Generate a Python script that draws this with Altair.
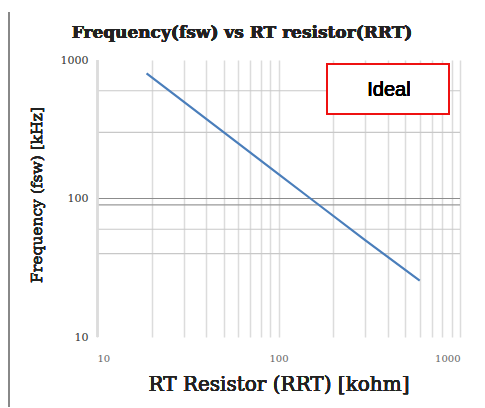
import altair as alt
import pandas as pd

# Data
rrt_kohm = [18.75, 30, 50, 100, 150, 300, 600]
fsw_khz = [800, 500, 300, 150, 100, 50, 25.5]

hgrid_values = [40, 60, 90, 100, 300, 600]
hgrid_colors = ["#c8c8c8", "#c8c8c8", "#9a9a9a", "#8c8c8c", "#c8c8c8", "#c8c8c8"]

x_grid_values = [10, 20, 30, 40, 50, 60, 70, 80, 90, 100,
                 200, 300, 400, 500, 600, 700, 800, 900, 1000]
axis_labels = [10, 100, 1000]

title_text = "Frequency(fsw) vs RT resistor(RRT)"
x_title = "RT Resistor (RRT) [kohm]"
y_title = "Frequency (fsw) [kHz]"
legend_text = "Ideal"

df = pd.DataFrame({"R": rrt_kohm, "f": fsw_khz})
hg = pd.DataFrame({"v": hgrid_values, "c": hgrid_colors})

serif = "DejaVu Serif"

xs = alt.Scale(type="log", domain=[10, 1000], nice=False)
ys = alt.Scale(type="log", domain=[10, 1000], nice=False)

base = alt.Chart(df).mark_line(color="#4a7ebb", strokeWidth=2.2).encode(
    x=alt.X("R:Q", scale=xs, axis=alt.Axis(
        values=x_grid_values, grid=True, gridColor="#dcdcdc", gridWidth=1.5,
        domain=False, ticks=False, title=None,
        labelExpr="(datum.value == 10 || datum.value == 100 || datum.value == 1000) ? datum.label : ''",
        labelFont=serif, labelFontSize=10, labelColor="#666666", labelPadding=16,
        format="d")),
    y=alt.Y("f:Q", scale=ys, axis=alt.Axis(
        values=axis_labels, grid=False, domain=False, ticks=False, title=None,
        labelFont=serif, labelFontSize=11, labelColor="#333333", labelPadding=9,
        format="d")),
)

hlines = alt.Chart(hg).mark_rule(strokeWidth=1.2).encode(
    y=alt.Y("v:Q", scale=ys),
    color=alt.Color("c:N", scale=None),
)

line_left = alt.Chart(df).mark_rule(color="#dcdcdc", strokeWidth=1.5).encode(
    x=alt.value(0.5), y=alt.value(0), y2=alt.value(277))

frame = alt.Chart(df).mark_rule(color="#888888", strokeWidth=1.5).encode(
    x=alt.value(-88), y=alt.value(-48), y2=alt.value(360))

title = alt.Chart(df).mark_text(font=serif, fontSize=17, fontWeight="bold",
                                color="#222222").encode(
    x=alt.value(145), y=alt.value(-27), text=alt.value(title_text))

xt = alt.Chart(df).mark_text(font=serif, fontSize=20, color="#222222").encode(
    x=alt.value(182), y=alt.value(325), text=alt.value(x_title))

yt = alt.Chart(df).mark_text(font=serif, fontSize=15.5, angle=270,
                             color="#222222").encode(
    x=alt.value(-60), y=alt.value(135), text=alt.value(y_title))

box = alt.Chart(df).mark_rect(fill="white", stroke="#ee1111", strokeWidth=2).encode(
    x=alt.value(230), x2=alt.value(352), y=alt.value(4), y2=alt.value(54))

box_text = alt.Chart(df).mark_text(font="Liberation Sans", fontSize=20,
                                   color="black").encode(
    x=alt.value(292), y=alt.value(30), text=alt.value(legend_text))

chart = alt.layer(hlines, line_left, base, box, box_text, title, xt, yt, frame).properties(
    width=363, height=277, autosize="none",
    padding={"left": 89, "top": 52, "right": 12, "bottom": 70},
).configure_view(stroke=None)

chart.save("out.html", embed_options={"renderer": "svg", "actions": False})
